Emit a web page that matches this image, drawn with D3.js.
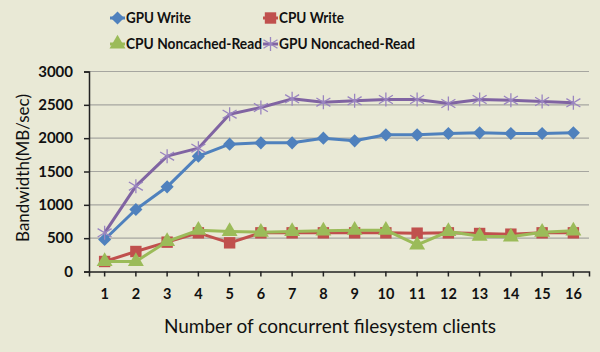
<!DOCTYPE html>
<html>
<head>
<meta charset="utf-8">
<script src="https://cdn.jsdelivr.net/npm/d3@7"></script>
<style>
  body { margin: 0; background: #e9e9d6; }
  svg { display: block; font-family: "Lato", "Liberation Sans", sans-serif; }
</style>
</head>
<body>
<div id="chart"></div>
<script>
// Data
const clients = [1, 2, 3, 4, 5, 6, 7, 8, 9, 10, 11, 12, 13, 14, 15, 16];
const gpuWrite = [480, 930, 1270, 1730, 1910, 1930, 1930, 2000, 1960, 2050, 2050, 2070, 2080, 2070, 2070, 2080];
const cpuWrite = [150, 300, 440, 580, 430, 580, 580, 580, 580, 580, 575, 580, 570, 560, 580, 580];
const cpuNoncachedRead = [150, 150, 450, 620, 600, 590, 600, 610, 620, 620, 400, 600, 530, 520, 590, 610];
const gpuNoncachedRead = [580, 1280, 1730, 1850, 2360, 2460, 2590, 2540, 2560, 2580, 2580, 2520, 2580, 2570, 2550, 2530];
const yTicks = [0, 500, 1000, 1500, 2000, 2500, 3000];

const series = [
  { name: "GPU Write", values: gpuWrite, color: "#4f81bd", mark: "#4f81bd", shape: "diamond" },
  { name: "CPU Write", values: cpuWrite, color: "#c0504d", mark: "#c0504d", shape: "square" },
  { name: "CPU Noncached-Read", values: cpuNoncachedRead, color: "#9bbb59", mark: "#9bbb59", shape: "triangle" },
  { name: "GPU Noncached-Read", values: gpuNoncachedRead, color: "#8064a2", mark: "#9a85c0", shape: "star" },
];

const dimensions = {
  width: 600,
  height: 352,
  margin: { top: 71.5, right: 11, bottom: 80.5, left: 89 },
};
dimensions.innerWidth = dimensions.width - dimensions.margin.left - dimensions.margin.right;
dimensions.innerHeight = dimensions.height - dimensions.margin.top - dimensions.margin.bottom;

const svg = d3
  .select("#chart")
  .append("svg")
  .attr("width", dimensions.width)
  .attr("height", dimensions.height);

svg.append("rect")
  .attr("width", dimensions.width)
  .attr("height", dimensions.height)
  .attr("fill", "#e9e9d6");

const graph = svg
  .append("g")
  .attr("transform", `translate(${dimensions.margin.left}, ${dimensions.margin.top})`);

const xScale = d3
  .scaleBand()
  .domain(clients)
  .range([0, dimensions.innerWidth]);

const yScale = d3
  .scaleLinear()
  .domain([0, 3000])
  .range([dimensions.innerHeight, 0]);

const xPos = (d) => xScale(d) + xScale.bandwidth() / 2;

// Gridlines
graph
  .append("g")
  .selectAll("line")
  .data(yTicks.filter((d) => d > 0))
  .join("line")
  .attr("x1", 0)
  .attr("x2", dimensions.innerWidth)
  .attr("y1", (d) => yScale(d))
  .attr("y2", (d) => yScale(d))
  .attr("stroke", "#a6a6a0")
  .attr("stroke-width", 1.2);

// Y axis
const yAxis = graph
  .append("g")
  .call(d3.axisLeft(yScale).tickValues(yTicks).tickFormat(d3.format("d")).tickSize(5).tickPadding(11));
yAxis.select(".domain").attr("stroke", "#222").attr("stroke-width", 1.5);
yAxis.selectAll(".tick line").attr("stroke", "#222").attr("stroke-width", 1.5);
yAxis.selectAll("text")
  .attr("font-size", 15)
  .attr("font-weight", "bold")
  .attr("fill", "#111")
  .attr("font-family", "Lato, sans-serif");

// X axis
const xAxis = graph
  .append("g")
  .attr("transform", `translate(0, ${dimensions.innerHeight})`)
  .call(d3.axisBottom(xScale).tickSize(5).tickSizeOuter(5).tickPadding(12));
xAxis.select(".domain").attr("stroke", "#222").attr("stroke-width", 1.5);
xAxis.selectAll(".tick line").attr("stroke", "#222").attr("stroke-width", 1.5);
xAxis.selectAll("text")
  .attr("font-size", 14.5)
  .attr("font-weight", "bold")
  .attr("fill", "#111")
  .attr("font-family", "Lato, sans-serif");

// Marker shapes
const symbolFor = {
  diamond: d3.symbol(d3.symbolDiamond2, 110),
  square: d3.symbol(d3.symbolSquare, 130),
  triangle: d3.symbol(d3.symbolTriangle, 110),
};

function drawMarker(sel, s) {
  if (s.shape === "star") {
    const r = 7;
    const p = `M${-r},${-r * 0.6}L${r},${r * 0.6}M${-r},${r * 0.6}L${r},${-r * 0.6}M0,${-r}L0,${r}`;
    sel.append("path")
      .attr("d", p)
      .attr("stroke", s.mark)
      .attr("stroke-width", 1.3)
      .attr("fill", "none");
  } else {
    sel.append("path")
      .attr("d", symbolFor[s.shape]())
      .attr("fill", s.mark);
  }
}

// Lines and points
const lineGenerator = d3
  .line()
  .x((d, i) => xPos(clients[i]))
  .y((d) => yScale(d));

series.forEach((s) => {
  graph
    .append("path")
    .datum(s.values)
    .attr("d", lineGenerator)
    .attr("fill", "none")
    .attr("stroke", s.color)
    .attr("stroke-width", 3)
    .attr("stroke-linejoin", "round");

  graph
    .append("g")
    .selectAll("g")
    .data(s.values)
    .join("g")
    .attr("transform", (d, i) => `translate(${xPos(clients[i])}, ${yScale(d)})`)
    .each(function () {
      drawMarker(d3.select(this), s);
    });
});

// Legend
const legendPos = [
  { x: 110, y: 18 },
  { x: 263, y: 18 },
  { x: 110, y: 44 },
  { x: 263, y: 44 },
];
series.forEach((s, i) => {
  const g = svg.append("g").attr("transform", `translate(${legendPos[i].x}, ${legendPos[i].y})`);
  g.append("line")
    .attr("x1", 0)
    .attr("x2", 15)
    .attr("stroke", s.color)
    .attr("stroke-width", 3);
  const m = g.append("g").attr("transform", "translate(7.5, 0)");
  drawMarker(m, s);
  g.append("text")
    .attr("x", 16)
    .attr("dy", "0.35em")
    .attr("font-size", 14.5)
    .attr("font-weight", "bold")
    .attr("fill", "#111")
    .attr("textLength", s.name.length > 10 ? 136 : 65)
    .attr("lengthAdjust", "spacingAndGlyphs")
    .text(s.name);
});

// Axis titles
svg
  .append("text")
  .attr("x", 330)
  .attr("y", 333)
  .attr("text-anchor", "middle")
  .attr("font-size", 19)
  .attr("fill", "#111")
  .text("Number of concurrent filesystem clients");

svg
  .append("text")
  .attr("transform", "rotate(-90)")
  .attr("x", -168)
  .attr("y", 29)
  .attr("text-anchor", "middle")
  .attr("font-size", 17)
  .attr("fill", "#111")
  .text("Bandwidth(MB/sec)");
</script>
</body>
</html>
